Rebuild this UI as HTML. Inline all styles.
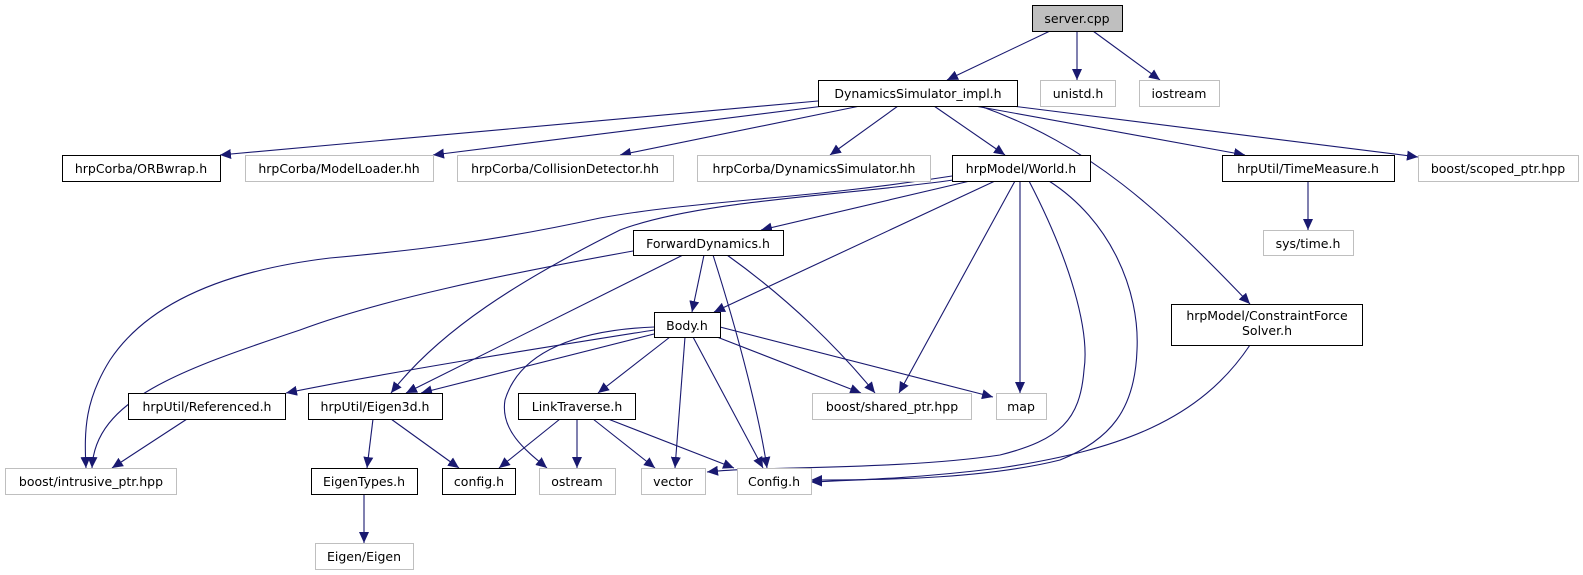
<!DOCTYPE html>
<html><head><meta charset="utf-8"><style>
html,body{margin:0;padding:0;background:#fff;}
svg{display:block;}
text{font-family:"DejaVu Sans","Liberation Sans",sans-serif;font-size:12.5px;fill:#000;text-anchor:middle;}
.b{fill:#fff;stroke:#000;stroke-width:1;}
.g{fill:#fff;stroke:#bfbfbf;stroke-width:1;}
path.e{fill:none;stroke:#191970;stroke-width:1.1;marker-end:url(#a);}
</style></head><body>
<svg width="1583" height="575" viewBox="0 0 1583 575" xmlns="http://www.w3.org/2000/svg">
<defs><marker id="a" markerUnits="userSpaceOnUse" markerWidth="12" markerHeight="10" refX="11" refY="5" orient="auto"><path d="M0,0 L11,5 L0,10 z" fill="#191970"/></marker></defs>

<!-- edges -->
<path class="e" d="M1050,31 L947,80"/>
<path class="e" d="M1077,31 L1077,80"/>
<path class="e" d="M1093,31 L1160,80"/>
<path class="e" d="M818,101 L220,155"/>
<path class="e" d="M824,106 L433,155"/>
<path class="e" d="M860,106 L620,155"/>
<path class="e" d="M898,106 L830,155"/>
<path class="e" d="M934,106 L1005,155"/>
<path class="e" d="M975,106 L1245,155"/>
<path class="e" d="M1012,106 L1418,157"/>
<path class="e" d="M980,106 C1090,145 1160,210 1250,304"/>
<path class="e" d="M1308,181 L1308,230"/>
<path class="e" d="M970,181 L761,230"/>
<path class="e" d="M995,181 L714,312"/>
<path class="e" d="M1015,181 L899,393"/>
<path class="e" d="M1020,181 L1020,393"/>
<path class="e" d="M1029,181 C1070,260 1090,330 1084,370 C1080,420 1060,440 1000,455 C900,470 760,466 707,472"/>
<path class="e" d="M1049,181 C1110,220 1140,290 1137,350 C1135,410 1110,440 1060,460 C980,480 870,480 811,480"/>
<path class="e" d="M953,180 C850,195 700,200 620,230 C520,280 440,330 391,393"/>
<path class="e" d="M952,176 C800,200 700,200 600,218 C500,240 420,250 330,258 C230,270 150,300 110,360 C85,400 84,430 86,468"/>
<path class="e" d="M704,255 L692,312"/>
<path class="e" d="M683,255 L406,393"/>
<path class="e" d="M633,251 C500,275 380,300 300,330 C180,370 95,400 92,468"/>
<path class="e" d="M727,255 C790,300 840,350 875,393"/>
<path class="e" d="M713,255 C740,340 760,420 767,468"/>
<path class="e" d="M654,330 C560,345 400,370 286,393"/>
<path class="e" d="M654,334 L421,393"/>
<path class="e" d="M654,327 C580,330 520,350 505,400 C500,430 525,450 547,468"/>
<path class="e" d="M670,337 L598,393"/>
<path class="e" d="M685,337 L675,468"/>
<path class="e" d="M693,337 L763,468"/>
<path class="e" d="M717,337 L861,393"/>
<path class="e" d="M720,327 L993,397"/>
<path class="e" d="M187,419 L112,468"/>
<path class="e" d="M373,419 L367,468"/>
<path class="e" d="M391,419 L459,468"/>
<path class="e" d="M364,494 L364,543"/>
<path class="e" d="M560,419 L499,468"/>
<path class="e" d="M577,419 L577,468"/>
<path class="e" d="M593,419 L655,468"/>
<path class="e" d="M608,419 L734,468"/>
<path class="e" d="M1250,345 C1200,420 1120,450 1000,468 C920,478 860,480 811,482"/>

<!-- nodes -->
<rect x="1032.5" y="5.5" width="90" height="26" fill="#bfbfbf" stroke="#000"/><text x="1077" y="23">server.cpp</text>
<rect class="b" x="818.5" y="80.5" width="199" height="26"/><text x="918" y="98">DynamicsSimulator_impl.h</text>
<rect class="g" x="1040.5" y="80.5" width="75" height="26"/><text x="1078" y="98">unistd.h</text>
<rect class="g" x="1139.5" y="80.5" width="80" height="26"/><text x="1179" y="98">iostream</text>

<rect class="b" x="62.5" y="155.5" width="158" height="26"/><text x="141" y="173">hrpCorba/ORBwrap.h</text>
<rect class="g" x="245.5" y="155.5" width="188" height="26"/><text x="339" y="173">hrpCorba/ModelLoader.hh</text>
<rect class="g" x="457.5" y="155.5" width="216" height="26"/><text x="565" y="173">hrpCorba/CollisionDetector.hh</text>
<rect class="g" x="697.5" y="155.5" width="233" height="26"/><text x="814" y="173">hrpCorba/DynamicsSimulator.hh</text>
<rect class="b" x="952.5" y="155.5" width="138" height="26"/><text x="1021" y="173">hrpModel/World.h</text>
<rect class="b" x="1222.5" y="155.5" width="172" height="26"/><text x="1308" y="173">hrpUtil/TimeMeasure.h</text>
<rect class="g" x="1418.5" y="155.5" width="160" height="26"/><text x="1498" y="173">boost/scoped_ptr.hpp</text>

<rect class="b" x="633.5" y="230.5" width="150" height="25"/><text x="708" y="248">ForwardDynamics.h</text>
<rect class="g" x="1263.5" y="230.5" width="90" height="25"/><text x="1308" y="248">sys/time.h</text>

<rect class="b" x="654.5" y="312.5" width="66" height="25"/><text x="687" y="330">Body.h</text>
<rect class="b" x="1171.5" y="304.5" width="191" height="41"/><text x="1267" y="320">hrpModel/ConstraintForce</text><text x="1267" y="335">Solver.h</text>

<rect class="b" x="128.5" y="393.5" width="157" height="26"/><text x="207" y="411">hrpUtil/Referenced.h</text>
<rect class="b" x="308.5" y="393.5" width="134" height="26"/><text x="375" y="411">hrpUtil/Eigen3d.h</text>
<rect class="b" x="518.5" y="393.5" width="117" height="26"/><text x="577" y="411">LinkTraverse.h</text>
<rect class="g" x="812.5" y="393.5" width="159" height="26"/><text x="892" y="411">boost/shared_ptr.hpp</text>
<rect class="g" x="996.5" y="393.5" width="50" height="26"/><text x="1021" y="411">map</text>

<rect class="g" x="5.5" y="468.5" width="171" height="26"/><text x="91" y="486">boost/intrusive_ptr.hpp</text>
<rect class="b" x="311.5" y="468.5" width="106" height="26"/><text x="364" y="486">EigenTypes.h</text>
<rect class="b" x="442.5" y="468.5" width="73" height="26"/><text x="479" y="486">config.h</text>
<rect class="g" x="539.5" y="468.5" width="76" height="26"/><text x="577" y="486">ostream</text>
<rect class="g" x="641.5" y="468.5" width="64" height="26"/><text x="673" y="486">vector</text>
<rect class="g" x="737.5" y="468.5" width="74" height="26"/><text x="774" y="486">Config.h</text>

<rect class="g" x="315.5" y="543.5" width="98" height="26"/><text x="364" y="561">Eigen/Eigen</text>
</svg>
</body></html>
